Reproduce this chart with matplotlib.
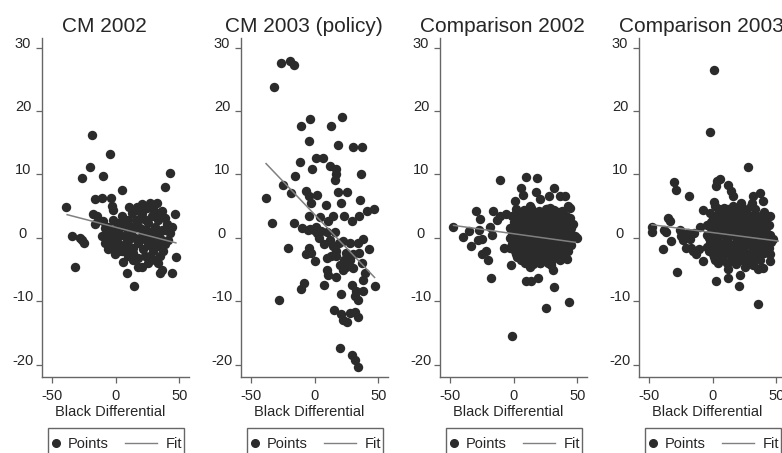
import matplotlib
matplotlib.use('Agg')
import matplotlib.pyplot as plt
from matplotlib.lines import Line2D
from matplotlib.patches import Rectangle

plt.rcParams['font.family'] = ['Liberation Sans', 'DejaVu Sans']
plt.rcParams['axes.unicode_minus'] = False

# ---------------- data ----------------
titles = ["CM 2002", "CM 2003 (policy)", "Comparison 2002", "Comparison 2003"]
x_label = "Black Differential"
x_ticks = [-50, 0, 50]
y_ticks = [-20, -10, 0, 10, 20, 30]
legend_labels = ["Points", "Fit"]

cm2002_points = [
    (-18.4, 16.2), (-4.4, 13.3), (-20.3, 11.2), (-26.5, 9.5), (-9.4, 9.7),
    (42.3, 10.2), (38.4, 8.0), (5.2, 7.5), (-38.4, 4.9), (-16.4, 6.2),
    (-10.4, 6.3), (-3.4, 6.3), (-2.9, 5.0), (-2.1, 4.4), (-17.9, 3.7),
    (-14.5, 3.4), (-16.4, 2.2), (-9.9, 2.6), (-34.0, 0.3), (-27.5, 0.0),
    (-25.0, -0.8), (-26.2, -0.3), (-31.4, -4.5), (14.8, -7.5), (6.2, -3.8),
    (8.8, -5.5), (34.8, -5.5), (36.1, -5.0), (43.9, -5.5), (47.5, -3.0),
    (46.5, 3.8), (10.6, 4.9), (16.6, 4.9), (27.0, 5.5), (32.2, 5.5),
    (36.1, 4.2), (38.7, 3.2), (-0.3, -2.6), (17.9, -3.2), (20.5, -4.5),
    (25.7, -3.9), (30.9, -3.4), (41.3, -0.3),
    (-10.6, 0.3), (-6.8, 0.8), (-5.5, 0.0), (-1.6, 1.3), (1.0, 2.4),
    (3.6, 0.5), (7.5, 1.8), (10.1, 2.9), (12.7, 3.9), (15.3, 1.8),
    (17.9, 2.9), (20.5, 3.9), (23.1, 1.3), (25.7, 2.4), (28.3, 3.4),
    (30.9, 1.8), (33.5, 2.9), (36.1, 1.3), (2.3, -0.8), (6.2, -1.3),
    (10.1, -0.5), (14.0, -1.6), (17.9, -0.8), (21.8, -1.8), (25.7, -1.1),
    (29.6, -2.1), (33.5, -1.3), (37.4, -2.1), (-2.9, -1.6), (-8.1, -0.8),
    (4.9, -2.1), (10.1, -2.9), (14.0, -2.4), (23.1, -2.9), (17.9, -4.5),
    (33.5, -3.9), (-5.5, 1.8), (-2.3, 2.9), (4.9, 3.4), (20.5, 5.3),
    (24.4, 4.7), (29.6, 4.5), (38.7, 1.3), (42.6, 0.8), (2.3, 1.3),
    (12.2, 0.8), (20.5, 0.3), (28.3, 0.3), (34.8, 0.0), (15.3, 0.0),
    (7.5, 0.3),
    (-8.0, 1.5), (-3.0, -0.5), (0.0, 0.5), (5.0, 2.5), (8.0, -0.8),
    (12.0, 1.8), (14.0, -3.5), (19.0, 1.5), (22.0, 3.0), (24.0, -0.3),
    (27.0, -2.8), (31.0, 0.8), (33.0, 4.0), (35.0, -2.8), (39.0, -1.0),
    (40.0, 2.2), (44.0, 1.8), (3.0, -2.0), (-6.0, -1.8), (18.0, 4.2),
    (26.0, 1.0), (37.0, 3.3), (11.0, -1.8), (29.0, -0.8), (16.0, 2.8),
]
cm2002_fit_x = [-38.4, 47.8]
cm2002_fit_y = [3.7, -0.8]

cm2003_points = [
    (-26.3, 27.5), (-18.8, 27.9), (-16.0, 27.2), (-31.5, 23.8), (-3.2, 18.8),
    (-10.8, 17.7), (21.7, 19.1), (13.1, 17.6), (-4.5, 15.2), (18.3, 14.6),
    (30.5, 14.4), (37.0, 14.4), (1.5, 12.6), (6.6, 12.6), (-11.5, 12.0),
    (-1.7, 10.9), (11.8, 11.3), (16.5, 10.8), (17.0, 10.0), (16.2, 9.2),
    (36.5, 10.1), (-15.1, 9.7), (-24.5, 8.3), (-18.5, 7.1), (-38.3, 6.3),
    (-6.3, 7.4), (2.2, 6.8), (-2.5, 5.5), (-4.2, 6.6), (8.7, 5.2),
    (18.6, 7.3), (25.3, 7.2), (20.9, 5.5), (35.7, 6.0), (46.9, 4.6),
    (40.9, 4.2), (35.2, 3.4), (29.0, 2.6), (22.8, 3.4), (14.4, 3.4),
    (10.5, 2.6), (4.0, 3.3), (-4.2, 3.5), (-33.6, 2.4), (-15.7, 2.4),
    (-9.7, 1.5), (-5.0, 1.3), (-0.6, 1.2), (2.0, 0.8), (5.3, 1.1),
    (9.7, 0.9), (16.2, 0.9), (3.5, 0.0), (-3.8, 1.4), (-20.4, -1.6),
    (-4.2, -1.6), (-2.4, -2.4), (-6.3, -2.6), (0.1, -3.7), (7.4, -0.9),
    (9.7, -3.2), (14.4, -1.3), (17.0, -2.1), (18.8, -0.8), (22.2, -0.5),
    (27.4, -0.8), (24.8, -2.4), (27.4, -3.4), (30.0, -2.6), (33.9, -0.8),
    (38.3, -0.2), (42.5, -1.7), (34.7, -2.4), (37.0, -3.9), (39.4, -5.5),
    (38.3, -6.6), (30.0, -4.7), (22.2, -5.0), (17.0, -6.1), (9.7, -5.1),
    (10.5, -5.8), (7.7, -7.4), (19.6, -4.2), (24.8, -4.5), (29.0, -7.4),
    (32.1, -8.4), (33.9, -9.7), (31.4, -9.1), (38.3, -8.4), (47.2, -7.5),
    (-8.1, -7.1), (-10.8, -8.1), (-28.1, -9.7), (20.4, -8.9), (14.9, -11.3),
    (20.9, -11.9), (25.3, -13.3), (27.4, -11.8), (31.4, -11.6), (33.9, -12.5),
    (22.2, -12.9), (20.2, -17.4), (29.0, -18.4), (31.4, -19.2), (33.9, -20.4),
    (1.5, 1.7), (11.8, -0.3), (17.0, -2.9), (22.8, -3.4), (13.1, -2.9),
]
cm2003_fit_x = [-38.3, 47.4]
cm2003_fit_y = [11.8, -6.3]

comp2002_points = [
    (-47.5, 1.7), (-39.2, 0.1), (-34.5, 1.1), (-33.5, -1.3), (-29.4, 4.3),
    (-26.2, 3.0), (-27.0, 1.3), (-24.9, -0.2), (-27.5, -0.3), (-24.9, -2.6),
    (-21.8, -2.1), (-20.3, -3.5), (-18.4, 1.7), (-17.1, 0.4), (-17.7, -6.3),
    (-16.4, 4.3), (-10.6, 9.1), (-13.2, 2.9), (-10.6, 3.4), (-5.5, 3.7),
    (-7.5, -1.6), (-2.1, -4.2), (-1.0, -15.4), (1.0, 5.8), (5.5, 7.9),
    (7.5, 6.8), (9.6, 9.6), (18.7, 9.4), (17.9, 7.2), (20.5, 6.1),
    (27.5, 6.6), (31.7, 7.9), (36.1, 6.6), (40.0, 6.6), (42.6, 5.0),
    (44.4, 4.8), (46.5, 2.2), (47.8, 0.3), (42.1, -3.3), (31.4, -7.8),
    (25.2, -11.1), (43.4, -10.1), (9.6, -6.8), (14.0, -6.7), (19.2, -6.3),
    (29.6, -4.2), (30.9, -5.1), (12.7, -4.5), (20.5, -3.9), (25.7, 4.5),
    (28.3, 4.7), (33.5, 3.9), (-2.9, -1.6), (2.3, 3.9), (12.7, 5.0),
    (2, 4.6), (8, 4.4), (14, 4.7), (20, 4.3), (26, 4.6), (32, 4.4), (38, 4.2),
    (-1, 3.5), (5, 3.6), (11, 3.4), (17, 3.7), (23, 3.5), (29, 3.3), (35, 3.6), (41, 3.4),
    (0, 2.5), (6, 2.6), (12, 2.4), (18, 2.7), (24, 2.5), (30, 2.3), (36, 2.6), (42, 2.4),
    (-3, 1.5), (3, 1.6), (9, 1.4), (15, 1.7), (21, 1.5), (27, 1.3), (33, 1.6), (39, 1.4), (45, 1.5),
    (-1, 0.5), (5, 0.6), (11, 0.4), (17, 0.7), (23, 0.5), (29, 0.3), (35, 0.6), (41, 0.4), (47, 0.2),
    (1, -0.5), (7, -0.4), (13, -0.6), (19, -0.3), (25, -0.5), (31, -0.7), (37, -0.4), (43, -0.6),
    (-2, -1.5), (4, -1.4), (10, -1.6), (16, -1.3), (22, -1.5), (28, -1.7), (34, -1.4), (40, -1.6),
    (2, -2.5), (8, -2.4), (14, -2.6), (20, -2.3), (26, -2.5), (32, -2.7), (38, -2.4),
    (6, -3.5), (12, -3.4), (18, -3.6), (24, -3.3), (30, -3.5), (36, -3.4),
    (5, 4.0), (11, 4.0), (17, 4.1), (23, 3.9), (29, 4.0), (35, 4.1),
    (2, 3.0), (8, 3.1), (14, 2.9), (20, 3.0), (26, 3.1), (32, 2.9), (38, 3.0), (44, 3.1),
    (3, 2.0), (9, 2.1), (15, 1.9), (21, 2.0), (27, 2.1), (33, 1.9), (39, 2.0),
    (2, 1.0), (8, 1.1), (14, 0.9), (20, 1.0), (26, 1.1), (32, 0.9), (38, 1.0), (44, 1.1),
    (-3, 0.0), (4, 0.1), (10, -0.1), (16, 0.0), (22, 0.1), (28, -0.1), (34, 0.0), (40, 0.1), (46, -0.1), (50, 0.0),
    (-1, -1.0), (4, -0.9), (10, -1.1), (16, -1.0), (22, -0.9), (28, -1.1), (34, -1.0), (40, -0.9), (45, -1.1),
    (1, -2.0), (7, -2.1), (13, -1.9), (19, -2.0), (25, -2.1), (31, -1.9), (37, -2.0), (43, -2.1),
    (3, -3.0), (9, -3.1), (15, -2.9), (21, -3.0), (27, -3.1), (33, -2.9), (39, -3.0),
    (9, -4.0), (15, -4.1), (21, -3.9), (27, -4.0),
]
comp2002_fit_x = [-47.5, 49.0]
comp2002_fit_y = [2.0, -0.7]

comp2003_points = [
    (1.0, 26.4), (-1.6, 16.7), (28.1, 11.2), (-29.9, 8.8), (-28.6, 7.6),
    (-18.2, 6.6), (3.9, 8.9), (5.7, 9.3), (3.1, 8.2), (12.2, 8.3),
    (14.8, 7.4), (16.4, 6.6), (36.9, 7.1), (39.5, 5.8), (31.7, 6.6),
    (31.2, 5.5), (22.6, 5.5), (1.3, 5.7), (-7.3, 4.4), (-34.5, 3.1),
    (-33.2, 2.6), (-47.3, 1.8), (-47.5, 1.0), (-37.9, 1.3), (-36.4, 0.9),
    (-39.0, -1.7), (-32.5, -0.5), (-25.5, 1.3), (-24.9, 0.3), (-22.9, -0.3),
    (-19.0, 0.8), (-17.7, -0.1), (-20.8, -1.6), (-16.9, -1.6), (-15.6, -2.1),
    (-13.0, -2.6), (-10.4, -1.8), (-9.9, 1.8), (-14.3, 0.8), (-7.3, -3.7),
    (-28.1, -5.3), (2.6, -6.8), (12.2, -6.3), (12.2, -4.9), (20.5, -7.5),
    (21.3, -5.8), (25.2, -4.5), (31.7, -4.2), (35.6, -4.9), (39.5, -4.8),
    (44.7, -3.7), (44.7, -2.6), (47.3, -0.2), (44.2, 2.1), (44.7, 3.5),
    (35.6, -10.4), (-2.1, -0.8),
    (2, 5.0), (9, 4.8), (16, 5.1), (23, 4.9), (30, 5.0),
    (-2, 4.0), (5, 4.1), (12, 3.9), (19, 4.2), (26, 4.0), (33, 3.8), (40, 4.1),
    (0, 3.0), (7, 3.1), (14, 2.9), (21, 3.2), (28, 3.0), (35, 2.8), (42, 3.1),
    (-4, 2.0), (3, 2.1), (10, 1.9), (17, 2.2), (24, 2.0), (31, 1.8), (38, 2.1),
    (-1, 1.0), (6, 1.1), (13, 0.9), (20, 1.2), (27, 1.0), (34, 0.8), (41, 1.1),
    (-3, 0.0), (4, 0.1), (11, -0.1), (18, 0.2), (25, 0.0), (32, -0.2), (39, 0.1), (46, -0.1),
    (0, -1.0), (7, -0.9), (14, -1.1), (21, -0.8), (28, -1.0), (35, -1.2), (42, -0.9),
    (-3, -2.0), (4, -1.9), (11, -2.1), (18, -1.8), (25, -2.0), (32, -2.2), (39, -1.9),
    (1, -3.0), (8, -2.9), (15, -3.1), (22, -2.8), (29, -3.0), (36, -3.2),
    (4, -4.0), (11, -3.9), (18, -4.1), (27, -4.0),
    (5, 4.5), (12, 4.5), (19, 4.6), (26, 4.4), (33, 4.5),
    (3, 3.5), (10, 3.5), (17, 3.6), (24, 3.4), (31, 3.5), (38, 3.5),
    (-1, 2.5), (6, 2.5), (13, 2.6), (20, 2.4), (27, 2.5), (34, 2.5), (41, 2.6),
    (0, 1.5), (7, 1.5), (14, 1.6), (21, 1.4), (28, 1.5), (35, 1.5), (42, 1.6),
    (-4, 0.5), (3, 0.5), (10, 0.6), (17, 0.4), (24, 0.5), (31, 0.5), (38, 0.6), (45, 0.4),
    (-1, -0.5), (4, -0.5), (11, -0.4), (18, -0.6), (25, -0.5), (32, -0.5), (39, -0.4), (46, -0.6),
    (-4, -1.5), (3, -1.5), (10, -1.4), (17, -1.6), (24, -1.5), (31, -1.5), (38, -1.4), (44, -1.6),
    (0, -2.5), (5, -2.5), (12, -2.4), (19, -2.6), (26, -2.5), (33, -2.5), (40, -2.4),
    (2, -3.5), (8, -3.5), (15, -3.6), (22, -3.4), (30, -3.5), (37, -3.5),
]
comp2003_fit_x = [-48.0, 52.0]
comp2003_fit_y = [2.1, -0.5]

panels = [
    (titles[0], cm2002_points, cm2002_fit_x, cm2002_fit_y),
    (titles[1], cm2003_points, cm2003_fit_x, cm2003_fit_y),
    (titles[2], comp2002_points, comp2002_fit_x, comp2002_fit_y),
    (titles[3], comp2003_points, comp2003_fit_x, comp2003_fit_y),
]

# ---------------- style ----------------
W, H = 782, 453
DOT = '#2b2b2b'
FIT = '#808080'
AXC = '#666666'
TXT = '#262626'

fig = plt.figure(figsize=(W / 100, H / 100), dpi=100)
fig.patch.set_facecolor('white')


def fx(px):
    return px / W


def fy(py):
    return 1 - py / H


for i, (title, pts, fit_x, fit_y) in enumerate(panels):
    left = 42 + 199 * i
    ax = fig.add_axes([fx(left), fy(377), 147 / W, 339 / H])
    xs = [p[0] for p in pts]
    ys = [p[1] for p in pts]
    ax.scatter(xs, ys, s=46, c=DOT, linewidths=0, zorder=2, clip_on=False)
    ax.plot(fit_x, fit_y, color=FIT, lw=1.1, zorder=3, solid_capstyle='butt')

    ax.set_xlim(-57.5, 57.5)
    ax.set_ylim(-21.9, 31.5)
    ax.set_xticks(x_ticks)
    ax.set_yticks(y_ticks)
    for s in ['top', 'right']:
        ax.spines[s].set_visible(False)
    for s in ['left', 'bottom']:
        ax.spines[s].set_color(AXC)
        ax.spines[s].set_linewidth(1.0)
    ax.tick_params(axis='both', direction='out', length=4.3, width=0.9,
                   color=AXC, labelcolor=TXT, labelsize=10.5)
    ax.tick_params(axis='x', pad=4.0)
    ax.tick_params(axis='y', pad=9.4)
    plt.setp(ax.get_yticklabels(), va='baseline', ha='center')
    ax.set_facecolor('white')

    cx = left + 73.5
    fig.text(fx(cx - 11), fy(32), title, ha='center', va='baseline',
             fontsize=15, color=TXT)
    fig.text(fx(cx - 5), fy(416), x_label, ha='center', va='baseline',
             fontsize=10.5, color=TXT)

    # legend box
    fig.add_artist(Rectangle((fx(left + 6), fy(475)), 136 / W, (475 - 428) / H,
                             transform=fig.transFigure, fill=False,
                             edgecolor=AXC, linewidth=1.0))
    fig.add_artist(Line2D([fx(left + 14)], [fy(443)], marker='o', markersize=5.5,
                          color=DOT, linestyle='none', transform=fig.transFigure))
    fig.text(fx(left + 26), fy(448), legend_labels[0], ha='left', va='baseline',
             fontsize=10.5, color=TXT)
    fig.add_artist(Line2D([fx(left + 83), fx(left + 115)], [fy(443), fy(443)],
                          color=FIT, lw=1.0, transform=fig.transFigure))
    fig.text(fx(left + 124), fy(448), legend_labels[1], ha='left', va='baseline',
             fontsize=10.5, color=TXT)

fig.savefig('out.png', dpi=100, facecolor='white')
